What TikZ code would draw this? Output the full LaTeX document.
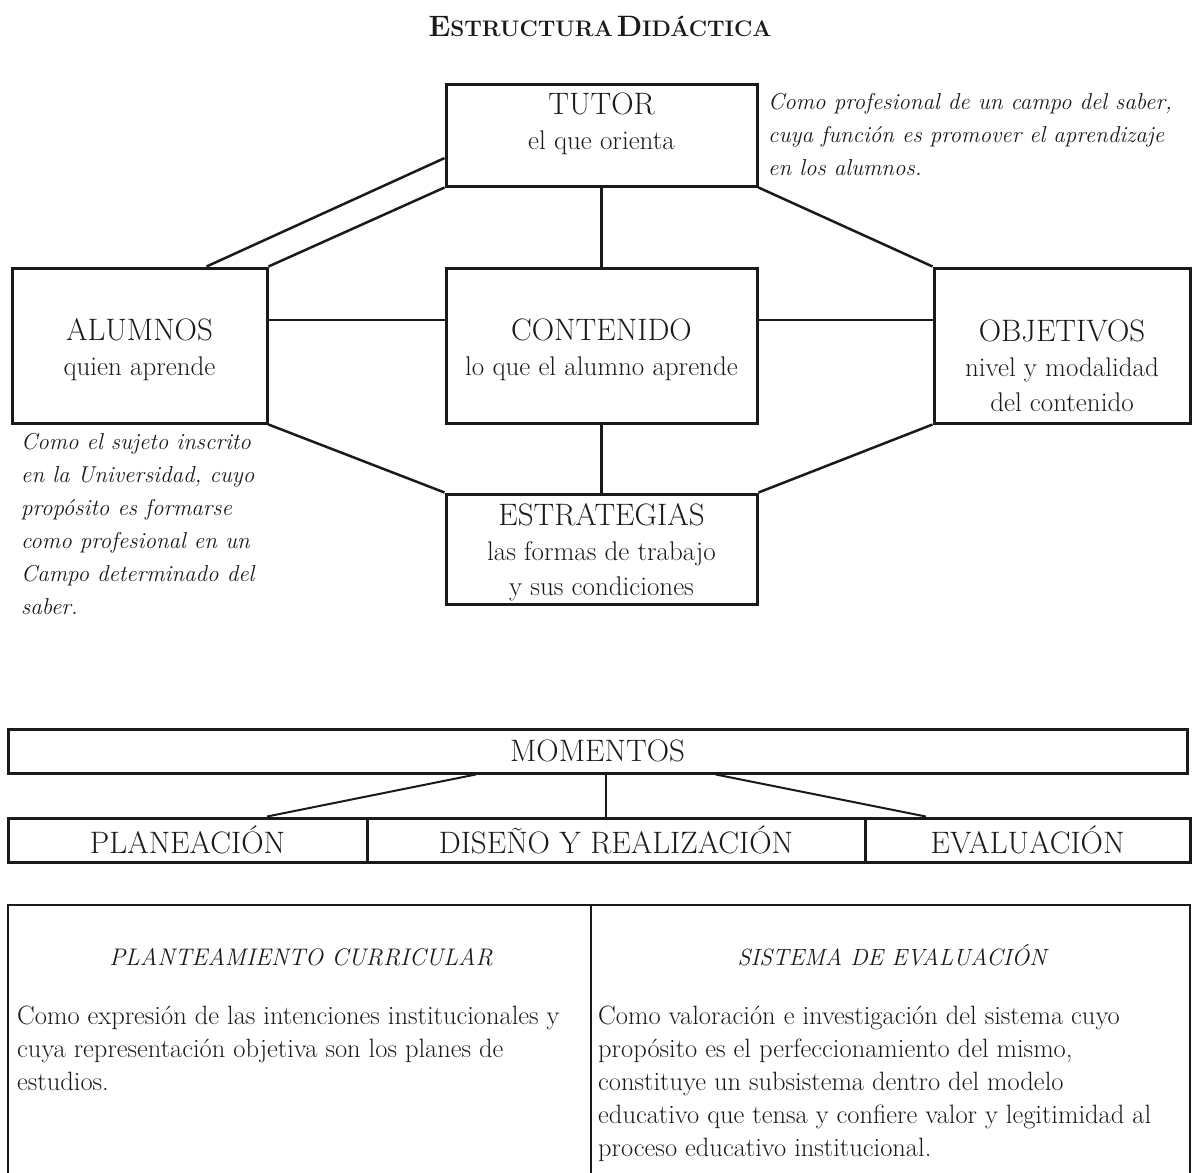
\documentclass[tikz,border=0pt]{standalone}
\usepackage{tikz}
\usetikzlibrary{positioning,calc}
\definecolor{ink}{HTML}{1A1A1A}
\newcommand\boxhead[1]{{\fontsize{31}{37}\selectfont #1}}

\begin{document}
\begin{tikzpicture}[x=1pt,y=-1pt,
    box/.style={draw=ink, line width=3pt, inner sep=0pt},
    boxtxt/.style={text=ink, align=center, inner sep=0pt, font=\fontsize{27}{35}\selectfont},
    rowtxt/.style={font=\fontsize{31}{31}\selectfont, text=ink},
    note/.style={text=ink, align=left, anchor=north west, inner sep=0pt, font=\fontsize{23}{33}\selectfont\itshape},
    link/.style={draw=ink, line width=2.5pt},
    cell/.style={draw=ink, line width=2pt, inner sep=0pt},
    body/.style={text=ink, align=left, anchor=north west, inner sep=0pt, font=\fontsize{26.5}{33}\selectfont}]
  \useasboundingbox (0,0) rectangle (1195,1173);

  % title
  \node[text=ink, font=\bfseries] (title) at (600,26)
    {{\fontsize{29.5}{29.5}\selectfont E}{\fontsize{22.5}{22.5}\selectfont STRUCTURA} {\fontsize{29.5}{29.5}\selectfont D}{\fontsize{22.5}{22.5}\selectfont IDÁCTICA}};

  % upper diagram
  \node[box, minimum width=311, minimum height=102] (tutor) at (601.5,135) {};
  \node[box, minimum width=255, minimum height=155] (alumnos) at (139.5,345.5) {};
  \node[box, minimum width=311, minimum height=155] (contenido) at (601.5,345.5) {};
  \node[box, minimum width=256, minimum height=155] (objetivos) at (1062,345.5) {};
  \node[box, minimum width=311, minimum height=110] (estrategias) at (601.5,549) {};

  \node[boxtxt] (tutor-t) at (601.5,124) {\boxhead{TUTOR}\\el que orienta};
  \node[boxtxt] (alumnos-t) at (139.5,350) {\boxhead{ALUMNOS}\\quien aprende};
  \node[boxtxt] (contenido-t) at (601.5,350) {\boxhead{CONTENIDO}\\lo que el alumno aprende};
  \node[boxtxt] (objetivos-t) at (1062,366) {\boxhead{OBJETIVOS}\\nivel y modalidad\\del contenido};
  \node[boxtxt] (estrategias-t) at (601.5,552) {\boxhead{ESTRATEGIAS}\\las formas de trabajo\\y sus condiciones};

  \node[note] (tutor-n) at (768,93) {Como profesional de un campo del saber,\\cuya función es promover el aprendizaje\\en los alumnos.};
  \node[note] (alumnos-n) at (21,433) {Como el sujeto inscrito\\en la Universidad, cuyo\\propósito es formarse\\como profesional en un\\Campo determinado del\\saber.};

  \draw[link] ($(tutor.north west)!0.72!(tutor.south west)$) -- ($(alumnos.north west)!0.76!(alumnos.north east)$);
  \draw[link] (tutor.south west) -- (alumnos.north east);
  \draw[link] (tutor.south) -- (contenido.north);
  \draw[link] (tutor.south east) -- (objetivos.north west);
  \draw[link] ($(alumnos.north east)!0.34!(alumnos.south east)$) coordinate (a1) -- (a1 -| contenido.west);
  \draw[link] ($(contenido.north east)!0.34!(contenido.south east)$) coordinate (c1) -- (c1 -| objetivos.west);
  \draw[link] (alumnos.south east) -- (estrategias.north west);
  \draw[link] (contenido.south) -- (estrategias.north);
  \draw[link] (objetivos.south west) -- (estrategias.north east);

  % momentos
  \node[box, rowtxt, minimum width=1179, minimum height=44] (momentos) at (597.5,751) {MOMENTOS};
  \node[box, rowtxt, minimum width=359, minimum height=44] (planeacion) at (187.5,840) {PLANEACIÓN};
  \node[box, rowtxt, minimum width=498, minimum height=44] (diseno) at (616,840) {DISEÑO Y REALIZACIÓN};
  \node[box, rowtxt, minimum width=325, minimum height=44] (evaluacion) at (1027.5,840) {EVALUACIÓN};

  \draw[link, line width=2pt] ($(momentos.south west)!0.397!(momentos.south east)$) -- ($(planeacion.north west)!0.72!(planeacion.north east)$);
  \draw[link, line width=2pt] ($(momentos.south west)!0.507!(momentos.south east)$) coordinate (m1) -- (m1 |- diseno.north);
  \draw[link, line width=2pt] ($(momentos.south west)!0.6!(momentos.south east)$) -- ($(evaluacion.north west)!0.19!(evaluacion.north east)$);

  % table
  \node[cell, minimum width=583, minimum height=275] (curricular) at (299.5,1042.5) {};
  \node[cell, minimum width=599, minimum height=275] (sistema) at (890.5,1042.5) {};

  \node[text=ink, font=\fontsize{24}{24}\selectfont\itshape] (curricular-h) at (301,957) {PLANTEAMIENTO CURRICULAR};
  \node[text=ink, font=\fontsize{23.5}{23.5}\selectfont\itshape] (sistema-h) at (892,955) {SISTEMA DE EVALUACIÓN};

  \node[body] (curricular-t) at (17,1006) {Como expresión de las intenciones institucionales y\\cuya representación objetiva son los planes de\\estudios.};
  \node[body] (sistema-t) at (598,1006) {Como valoración e investigación del sistema cuyo\\propósito es el perfeccionamiento del mismo,\\constituye un subsistema dentro del modelo\\educativo que tensa y confiere valor y legitimidad al\\proceso educativo institucional.};
\end{tikzpicture}
\end{document}
